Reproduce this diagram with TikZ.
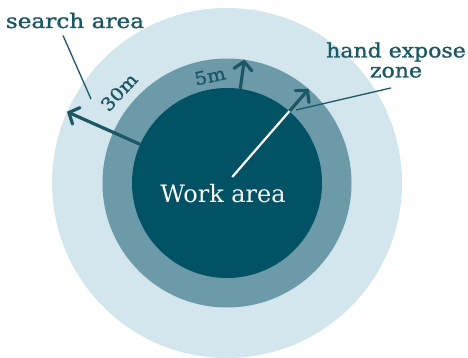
\documentclass[tikz,border=0pt]{standalone}
\usepackage{fontspec}
\setmainfont{DejaVu Serif}
\newfontfamily\labelfont[FakeStretch=1.1,FakeBold=1.2]{DejaVu Serif}
\newfontfamily\widelabelfont[FakeStretch=1.16,FakeBold=1.2]{DejaVu Serif}
\usetikzlibrary{arrows.meta}
\definecolor{searchzone}{HTML}{D3E6EE}
\definecolor{handzone}{HTML}{6C9AA9}
\definecolor{workzone}{HTML}{005264}
\definecolor{ink}{HTML}{1B5764}
\begin{document}
\begin{tikzpicture}[x=1pt,y=1pt,
  zone/.style={circle, inner sep=0pt, draw=none},
  label/.style={inner sep=0pt, text=ink, font=\labelfont\fontsize{20}{20}\selectfont},
  dist/.style={inner sep=0pt, text=ink, font=\labelfont\fontsize{18}{18}\selectfont},
  radial/.style={draw=ink, line width=3.2pt,
    -{Straight Barb[length=8pt,width=18pt,line cap=round]}},
  pointer/.style={draw=ink, line width=1.3pt}]
\useasboundingbox (0,0) rectangle (468,357);
\clip (0,0) rectangle (468,357);
\coordinate (c) at (227,174);
% three concentric zones
\node[zone, fill=searchzone, minimum size=350pt] (search) at (c) {};
\node[zone, fill=handzone, minimum size=249pt] (hand) at (c) {};
\node[zone, fill=workzone, minimum size=190pt] (work) at (c) {};
% labels
\node[label, anchor=base, font=\widelabelfont\fontsize{20}{20}\selectfont]
  (slabel) at (75,329) {search area};
\node[label, align=center] (hlabel) at (396,297) {hand expose\\zone};
\node[inner sep=0pt, text=white, anchor=base,
  font=\fontsize{24}{24}\selectfont] (wlabel) at (223,155) {Work area};
\node[dist, rotate=47] (d30) at (119,265) {30m};
\node[dist, rotate=12] (d5) at (210,281) {5m};
% radius arrows
\draw[radial] (work.156) -- (search.156);
\draw[radial] (work.82) -- (hand.82);
\draw[radial] (work.49) -- (hand.49);
\coordinate (w0) at ([shift={(49:8pt)}]c);
\draw[white, line width=2.2pt] (w0) -- (work.49);
% label pointers
\coordinate (sp) at (91,258);
\coordinate (hp) at (296,247);
\draw[pointer] ([xshift=-12pt,yshift=-7pt]slabel.south) -- (sp);
\draw[pointer] ([xshift=-5pt,yshift=-10pt]hlabel.south) -- (hp);
\end{tikzpicture}
\end{document}
